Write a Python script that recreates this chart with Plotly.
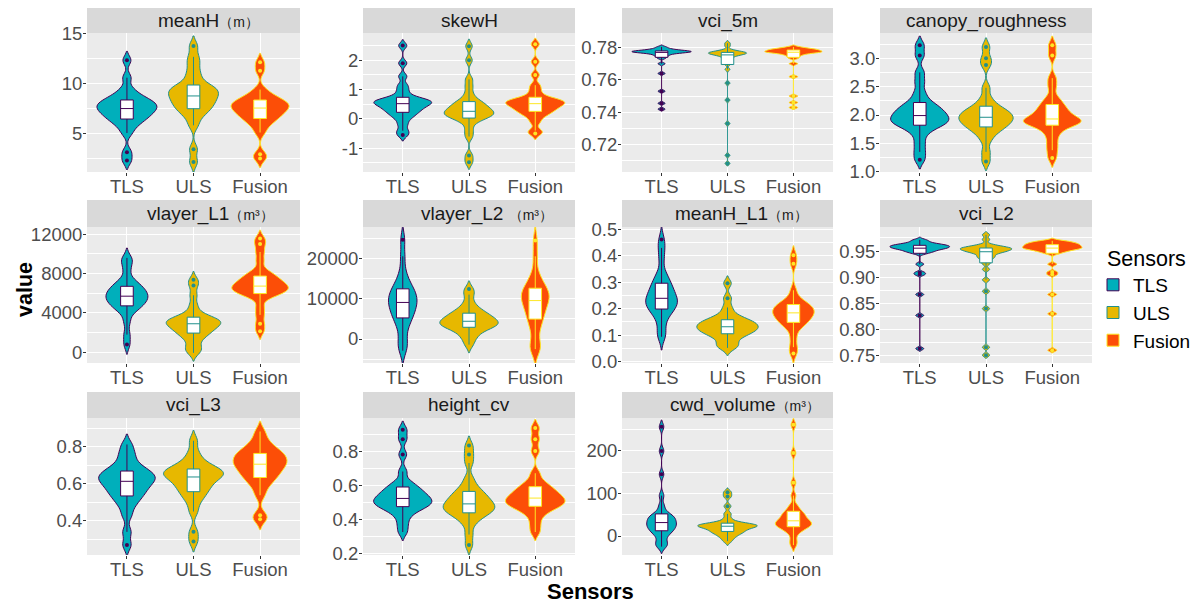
import plotly.graph_objects as go

# ---------------- data ----------------
sensors = ["TLS", "ULS", "Fusion"]

meanH_TLS = [2.25, 3.1, 5.03, 5.68, 6.05, 6.33, 6.54, 6.74, 6.93, 7.10, 7.26, 7.42, 7.56, 7.69, 7.82, 7.96, 8.11, 8.27, 8.44, 8.66, 8.96, 9.48, 10.6, 12.35]
meanH_ULS = [2.1, 3.4, 5.8, 6.6, 7.05, 7.35, 7.6, 7.82, 8.05, 8.27, 8.48, 8.67, 8.85, 9.03, 9.22, 9.42, 9.55, 9.72, 10.0, 10.6, 11.2, 12.0, 12.7, 13.8]
meanH_Fusion = [2.45, 2.9, 5.08, 5.73, 6.10, 6.38, 6.59, 6.79, 6.98, 7.15, 7.31, 7.47, 7.61, 7.73, 7.85, 7.98, 8.12, 8.27, 8.43, 8.64, 8.92, 9.40, 11.3, 12.15]

skewH_TLS = [-0.55, -0.4, -0.18, 0.0, 0.10, 0.18, 0.24, 0.30, 0.35, 0.40, 0.44, 0.49, 0.52, 0.55, 0.58, 0.61, 0.64, 0.67, 0.71, 0.82, 0.98, 1.15, 1.45, 1.9, 2.5]
skewH_ULS = [-1.48, -1.25, -0.6, -0.38, -0.15, -0.03, 0.03, 0.07, 0.11, 0.15, 0.18, 0.21, 0.24, 0.28, 0.33, 0.37, 0.42, 0.47, 0.53, 0.59, 0.67, 0.85, 1.1, 1.35, 2.0, 2.48]
skewH_Fusion = [-0.5, -0.4, -0.11, 0.06, 0.15, 0.22, 0.27, 0.32, 0.37, 0.41, 0.45, 0.49, 0.52, 0.55, 0.58, 0.61, 0.64, 0.67, 0.71, 0.82, 0.98, 1.15, 1.5, 1.95, 2.55]

vci5m_TLS = [0.7419, 0.7455, 0.7530, 0.7640, 0.7700, 0.7734, 0.7745, 0.7752, 0.7759, 0.7764, 0.7767, 0.7769, 0.7771, 0.7773, 0.7774, 0.7775, 0.7777, 0.7778, 0.7780, 0.7782, 0.7785, 0.7789, 0.7795, 0.7804]
vci5m_ULS = [0.7083, 0.7133, 0.7330, 0.7475, 0.7580, 0.7665, 0.7695, 0.7710, 0.7720, 0.7730, 0.7740, 0.7748, 0.7753, 0.7756, 0.7759, 0.7762, 0.7764, 0.7766, 0.7768, 0.7770, 0.7772, 0.7775, 0.7779, 0.7786, 0.7810, 0.7827]
vci5m_Fusion = [0.7429, 0.7460, 0.7500, 0.7620, 0.7700, 0.7734, 0.7745, 0.7754, 0.7760, 0.7765, 0.7768, 0.7770, 0.7772, 0.7774, 0.7776, 0.7778, 0.7780, 0.7783, 0.7786, 0.7788, 0.7790, 0.7793, 0.7797, 0.7804]

canopy_TLS = [1.21, 1.35, 1.50, 1.65, 1.75, 1.79, 1.83, 1.86, 1.88, 1.91, 1.93, 1.96, 1.99, 2.02, 2.05, 2.08, 2.12, 2.16, 2.20, 2.28, 2.40, 2.58, 2.75, 3.05, 3.23]
canopy_ULS = [1.18, 1.35, 1.55, 1.66, 1.72, 1.76, 1.80, 1.83, 1.86, 1.89, 1.91, 1.94, 1.96, 1.99, 2.01, 2.04, 2.07, 2.10, 2.14, 2.20, 2.30, 2.48, 2.88, 3.0, 3.20]
canopy_Fusion = [1.24, 1.38, 1.50, 1.63, 1.72, 1.79, 1.83, 1.855, 1.87, 1.885, 1.895, 1.905, 1.93, 1.96, 2.0, 2.04, 2.08, 2.12, 2.17, 2.23, 2.31, 2.50, 2.65, 3.05, 3.23]

vlayerL1_TLS = [800, 1800, 3100, 4030, 4370, 4620, 4820, 5000, 5180, 5330, 5480, 5630, 5780, 5930, 6080, 6240, 6420, 6610, 6810, 7080, 7430, 8400, 9200, 9600]
vlayerL1_ULS = [-60, 300, 650, 1230, 1560, 1810, 2000, 2170, 2340, 2490, 2640, 2780, 2900, 2990, 3080, 3180, 3290, 3410, 3530, 3690, 4100, 4800, 5800, 6800, 7380]
vlayerL1_Fusion = [2150, 2900, 3800, 4600, 5560, 5790, 5970, 6110, 6230, 6360, 6460, 6570, 6670, 6790, 6930, 7070, 7220, 7390, 7570, 7750, 8000, 8320, 9300, 10200, 11000, 11580]

vlayerL2_TLS = [-2900, -1500, 140, 2490, 3830, 4850, 5610, 6330, 7020, 7630, 8210, 8790, 9330, 9840, 10340, 10880, 11470, 12100, 12770, 13650, 14810, 16860, 20500, 24600]
vlayerL2_ULS = [-1400, 100, 960, 1860, 2370, 2760, 3050, 3320, 3580, 3820, 4040, 4260, 4520, 4830, 5130, 5460, 5820, 6200, 6600, 7140, 7850, 9090, 11000, 12400]
vlayerL2_Fusion = [-2400, -2500, -1190, 1650, 3260, 4480, 5390, 6270, 7100, 7840, 8530, 9230, 9810, 10260, 10710, 11190, 11720, 12290, 12880, 13670, 14710, 16550, 20500, 24400]

meanHL1_TLS = [0.094, 0.11, 0.146, 0.171, 0.185, 0.195, 0.203, 0.2105, 0.218, 0.224, 0.230, 0.236, 0.243, 0.252, 0.261, 0.270, 0.280, 0.291, 0.302, 0.317, 0.337, 0.39, 0.43, 0.462]
meanHL1_ULS = [0.052, 0.06, 0.070, 0.0865, 0.096, 0.103, 0.108, 0.113, 0.118, 0.122, 0.126, 0.130, 0.134, 0.138, 0.142, 0.146, 0.151, 0.156, 0.161, 0.168, 0.182, 0.205, 0.24, 0.296]
meanHL1_Fusion = [0.031, 0.055, 0.09, 0.123, 0.136, 0.145, 0.152, 0.159, 0.166, 0.171, 0.177, 0.182, 0.187, 0.192, 0.197, 0.2015, 0.207, 0.213, 0.219, 0.227, 0.238, 0.27, 0.37, 0.402]

vciL2_TLS = [0.7635, 0.827, 0.867, 0.905, 0.909, 0.925, 0.945, 0.948, 0.949, 0.951, 0.9525, 0.9537, 0.9547, 0.9555, 0.9563, 0.9572, 0.958, 0.9588, 0.9596, 0.9603, 0.9612, 0.962, 0.963, 0.9642, 0.966, 0.9690, 0.9715]
vciL2_ULS = [0.751, 0.766, 0.84, 0.873, 0.895, 0.915, 0.926, 0.932, 0.937, 0.939, 0.9425, 0.9455, 0.9475, 0.9487, 0.950, 0.9512, 0.9523, 0.9533, 0.9543, 0.9552, 0.956, 0.957, 0.958, 0.9595, 0.9625, 0.972, 0.981]
vciL2_Fusion = [0.7605, 0.83, 0.867, 0.905, 0.91, 0.925, 0.945, 0.948, 0.950, 0.9515, 0.953, 0.954, 0.955, 0.9557, 0.9565, 0.9575, 0.9585, 0.9595, 0.9605, 0.9615, 0.9625, 0.9635, 0.9645, 0.9655, 0.967, 0.9685, 0.9695]

vciL3_TLS = [0.269, 0.34, 0.429, 0.477, 0.505, 0.526, 0.542, 0.557, 0.571, 0.584, 0.596, 0.608, 0.618, 0.626, 0.634, 0.643, 0.653, 0.663, 0.674, 0.688, 0.707, 0.740, 0.77, 0.812]
vciL3_ULS = [0.288, 0.34, 0.450, 0.500, 0.528, 0.549, 0.565, 0.580, 0.595, 0.608, 0.620, 0.632, 0.641, 0.647, 0.654, 0.660, 0.668, 0.675, 0.684, 0.695, 0.709, 0.734, 0.77, 0.832]
vciL3_Fusion = [0.408, 0.43, 0.538, 0.582, 0.607, 0.626, 0.641, 0.654, 0.667, 0.679, 0.690, 0.701, 0.710, 0.719, 0.728, 0.737, 0.747, 0.758, 0.769, 0.778, 0.792, 0.812, 0.84, 0.882]

heightcv_TLS = [0.325, 0.37, 0.411, 0.439, 0.455, 0.467, 0.476, 0.484, 0.492, 0.500, 0.507, 0.514, 0.522, 0.531, 0.540, 0.550, 0.561, 0.573, 0.585, 0.601, 0.623, 0.68, 0.78, 0.87, 0.925]
heightcv_ULS = [0.248, 0.31, 0.369, 0.399, 0.417, 0.430, 0.440, 0.449, 0.458, 0.466, 0.474, 0.481, 0.490, 0.500, 0.510, 0.521, 0.533, 0.545, 0.559, 0.576, 0.600, 0.641, 0.73, 0.78, 0.832]
heightcv_Fusion = [0.325, 0.37, 0.413, 0.441, 0.457, 0.469, 0.478, 0.486, 0.494, 0.502, 0.509, 0.516, 0.524, 0.533, 0.542, 0.552, 0.563, 0.575, 0.587, 0.603, 0.625, 0.67, 0.80, 0.87, 0.935]

cwd_TLS = [-25, -20, -13, -2, 5, 9.5, 13.2, 16.7, 20, 23, 25.8, 28.6, 31.6, 34.7, 37.8, 41.1, 44.8, 47, 50, 58, 72, 95, 145, 200, 257]
cwd_ULS = [-12, -4, 0.5, 4.9, 8.2, 9.5, 12, 15.3, 17.3, 19.2, 21.1, 22.5, 23.5, 24.5, 25.5, 26.7, 28, 29.3, 31, 40, 52, 70, 93, 103]
cwd_Fusion = [-21.5, -10, 4.4, 12.2, 16.6, 20, 22.5, 24.9, 27.2, 29.2, 31.1, 33, 35.7, 39, 42.4, 46, 50, 54.2, 56, 64.5, 72.2, 95, 125, 195, 261.5]

panel_titles = [
    "meanH<span style='font-size:14px'>（m）</span>",
    "skewH",
    "vci_5m",
    "canopy_roughness",
    "vlayer_L1<span style='font-size:14px'>（m³）</span>",
    "vlayer_L2 <span style='font-size:14px'>（m³）</span>",
    "meanH_L1<span style='font-size:14px'>（m）</span>",
    "vci_L2",
    "vci_L3",
    "height_cv",
    "cwd_volume<span style='font-size:14px'>（m³）</span>",
]

panel_data = [
    [meanH_TLS, meanH_ULS, meanH_Fusion],
    [skewH_TLS, skewH_ULS, skewH_Fusion],
    [vci5m_TLS, vci5m_ULS, vci5m_Fusion],
    [canopy_TLS, canopy_ULS, canopy_Fusion],
    [vlayerL1_TLS, vlayerL1_ULS, vlayerL1_Fusion],
    [vlayerL2_TLS, vlayerL2_ULS, vlayerL2_Fusion],
    [meanHL1_TLS, meanHL1_ULS, meanHL1_Fusion],
    [vciL2_TLS, vciL2_ULS, vciL2_Fusion],
    [vciL3_TLS, vciL3_ULS, vciL3_Fusion],
    [heightcv_TLS, heightcv_ULS, heightcv_Fusion],
    [cwd_TLS, cwd_ULS, cwd_Fusion],
]

tick_vals = [
    [5, 10, 15],
    [-1, 0, 1, 2],
    [0.72, 0.74, 0.76, 0.78],
    [1.0, 1.5, 2.0, 2.5, 3.0],
    [0, 4000, 8000, 12000],
    [0, 10000, 20000],
    [0.0, 0.1, 0.2, 0.3, 0.4, 0.5],
    [0.75, 0.80, 0.85, 0.90, 0.95],
    [0.4, 0.6, 0.8],
    [0.2, 0.4, 0.6, 0.8],
    [0, 100, 200],
]
tick_text = [
    ["5", "10", "15"],
    ["-1", "0", "1", "2"],
    ["0.72", "0.74", "0.76", "0.78"],
    ["1.0", "1.5", "2.0", "2.5", "3.0"],
    ["0", "4000", "8000", "12000"],
    ["0", "10000", "20000"],
    ["0.0", "0.1", "0.2", "0.3", "0.4", "0.5"],
    ["0.75", "0.80", "0.85", "0.90", "0.95"],
    ["0.4", "0.6", "0.8"],
    ["0.2", "0.4", "0.6", "0.8"],
    ["0", "100", "200"],
]
minor_vals = [
    [2.5, 7.5, 12.5],
    [-1.5, -0.5, 0.5, 1.5, 2.5],
    [0.71, 0.73, 0.75, 0.77],
    [1.25, 1.75, 2.25, 2.75, 3.25],
    [2000, 6000, 10000],
    [-5000, 5000, 15000, 25000],
    [0.05, 0.15, 0.25, 0.35, 0.45],
    [0.775, 0.825, 0.875, 0.925, 0.975],
    [0.3, 0.5, 0.7, 0.9],
    [0.3, 0.5, 0.7, 0.9],
    [-50, 50, 150, 250],
]

# ---------------- styling / layout ----------------
y_ranges = [
    [1.1, 15.1], [-1.81, 2.93], [0.703, 0.789], [0.995, 3.446],
    [-1090, 12740], [-5950, 27760], [-0.005, 0.509], [0.736, 0.996],
    [0.215, 0.955], [0.19, 0.994], [-44.7, 277.6],
]
violin_widths = [
    [0.90, 0.75, 0.87], [0.87, 0.75, 0.89], [0.90, 0.58, 0.87], [0.88, 0.82, 0.87],
    [0.63, 0.82, 0.85], [0.43, 0.88, 0.42], [0.48, 0.93, 0.63], [0.90, 0.78, 0.90],
    [0.85, 0.90, 0.81], [0.88, 0.78, 0.90], [0.45, 0.90, 0.55],
]
bandwidths = [
    [0.45, 0.5, 0.45], [0.1, 0.12, 0.1], [0.0006, 0.0008, 0.0006], [0.08, 0.08, 0.08],
    [500, 420, 420], [1800, 1000, 1900], [0.025, 0.014, 0.018], [0.0025, 0.003, 0.0025],
    [0.028, 0.028, 0.028], [0.025, 0.028, 0.025], [8, 5, 7.5],
]
# horizontal centre (px) of each strip title, as placed in the reference
title_center_px = [208, 469, 727.5, 986, 210, 487, 741, 986, 193.5, 469, 745]

fill_colors = {"TLS": "#00AFBB", "ULS": "#E7B800", "Fusion": "#FC4E07"}
line_colors = {"TLS": "#440154", "ULS": "#21908C", "Fusion": "#FDE725"}

W, H = 1202, 603
col_px = [(87, 300), (363, 575), (622, 833), (880, 1092)]
row_px = [(33, 172), (227, 363), (418, 555)]
strip_px = [(8, 33), (200, 227), (392, 418)]

FONT = "Liberation Sans"
TICK_FONT = dict(family=FONT, size=18.5, color="#4D4D4D")

fig = go.Figure()
layout = {}
shapes = []
annotations = []

for k in range(len(panel_data)):
    r, c = divmod(k, 4)
    xname = "xaxis" if k == 0 else f"xaxis{k + 1}"
    yname = "yaxis" if k == 0 else f"yaxis{k + 1}"
    xref = "x" if k == 0 else f"x{k + 1}"
    yref = "y" if k == 0 else f"y{k + 1}"

    for j, s in enumerate(sensors):
        vals = panel_data[k][j]
        w = violin_widths[k][j]
        fig.add_trace(go.Violin(
            x=[s] * len(vals), y=vals, name=s, legendgroup=s, showlegend=(k == 0),
            xaxis=xref, yaxis=yref, width=w, scalemode="width", spanmode="soft",
            bandwidth=bandwidths[k][j], fillcolor=fill_colors[s],
            line=dict(color=line_colors[s], width=1),
            box=dict(visible=True, width=0.19 / w, fillcolor="white",
                     line=dict(color=line_colors[s], width=1)),
            meanline=dict(visible=False), points="outliers", pointpos=0, jitter=0,
            marker=dict(color=line_colors[s], size=4), hoverinfo="skip",
        ))

    xd = [col_px[c][0] / W, col_px[c][1] / W]
    yd = [1 - row_px[r][1] / H, 1 - row_px[r][0] / H]
    layout[xname] = dict(
        domain=xd, anchor=yref, type="category", categoryorder="array",
        categoryarray=sensors, range=[-0.6, 2.6], showgrid=True, gridcolor="white",
        gridwidth=1.1, ticks="outside", ticklen=3, tickcolor="#333333", tickwidth=1,
        tickfont=TICK_FONT, showline=False, zeroline=False, fixedrange=True,
        automargin=False, ticklabelstandoff=-5,
    )
    layout[yname] = dict(
        domain=yd, anchor=xref, range=y_ranges[k], tickmode="array",
        tickvals=tick_vals[k], ticktext=tick_text[k], showgrid=True, gridcolor="white",
        gridwidth=1.1, ticks="outside", ticklen=3, tickcolor="#333333", tickwidth=1,
        tickfont=TICK_FONT, showline=False, zeroline=False, fixedrange=True,
        automargin=False, ticklabelstandoff=-3,
        minor=dict(tickmode="array", tickvals=minor_vals[k], showgrid=True,
                   gridcolor="white", gridwidth=0.5),
    )
    # strip header
    shapes.append(dict(type="rect", xref="paper", yref="paper",
                       x0=xd[0], x1=xd[1], y0=1 - strip_px[r][1] / H, y1=1 - strip_px[r][0] / H,
                       fillcolor="#D9D9D9", line=dict(width=0), layer="below"))
    annotations.append(dict(text=panel_titles[k], xref="paper", yref="paper",
                            x=title_center_px[k] / W, y=1 - (strip_px[r][0] + strip_px[r][1]) / 2 / H,
                            xanchor="center", yanchor="middle", showarrow=False,
                            font=dict(family=FONT, size=19, color="#1A1A1A")))

annotations.append(dict(text="<b>value</b>", xref="paper", yref="paper", x=25 / W, y=1 - 290 / H,
                        textangle=-90, showarrow=False, xanchor="center", yanchor="middle",
                        font=dict(family=FONT, size=21.5, color="black")))
annotations.append(dict(text="<b>Sensors</b>", xref="paper", yref="paper", x=590 / W, y=1 - 591 / H,
                        showarrow=False, xanchor="center", yanchor="middle",
                        font=dict(family=FONT, size=22, color="black")))

fig.update_layout(
    width=W, height=H, autosize=False,
    margin=dict(l=0, r=0, t=0, b=0, pad=0, autoexpand=False),
    paper_bgcolor="white", plot_bgcolor="#EBEBEB", violinmode="overlay",
    font=dict(family=FONT), shapes=shapes, annotations=annotations,
    legend=dict(x=1093 / W, y=1 - 238 / H, xanchor="left", yanchor="top",
                title=dict(text="&nbsp;&nbsp;Sensors", font=dict(family=FONT, size=21.5, color="black")),
                font=dict(family=FONT, size=19, color="black"),
                bgcolor="rgba(0,0,0,0)", tracegroupgap=0, itemwidth=30),
    **layout,
)

fig.write_html("out.html")
